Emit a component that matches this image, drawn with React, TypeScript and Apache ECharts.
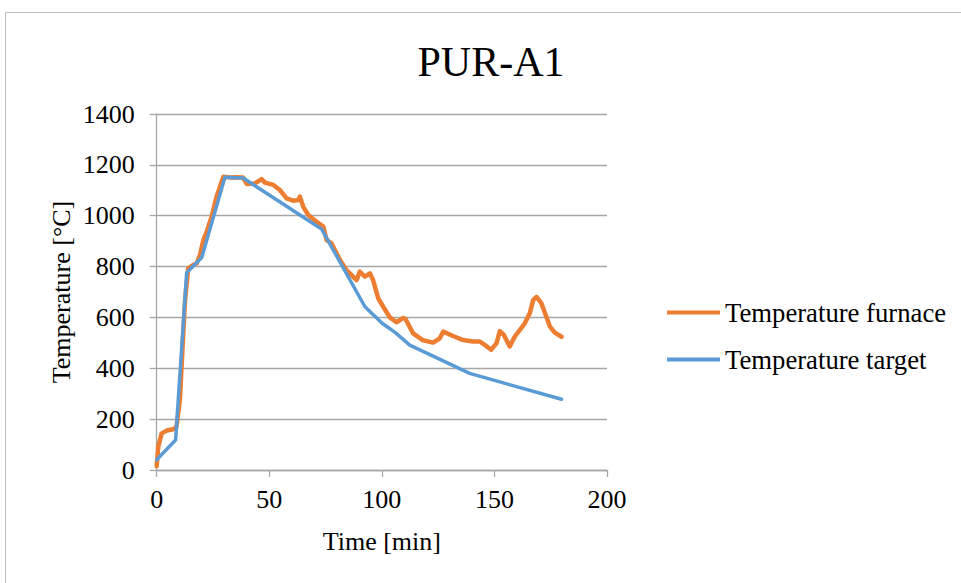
import React, { useEffect, useRef } from "react";
import * as echarts from "echarts";

const titleText = "PUR-A1";
const xTicks = [0, 50, 100, 150, 200];
const yTicks = [0, 200, 400, 600, 800, 1000, 1200, 1400];

const furnaceTime = [0, 0.7, 2.2, 4.4, 7.4, 8.8, 10.3, 11.8, 12.6, 14, 16, 17.8, 19.2, 20.7, 22.2, 24.4, 26.6, 29.6, 33, 35.5, 38.4, 40, 43.6, 46.6, 48.1, 51.8, 54.7, 57.7, 60.6, 62.9, 63.6, 65.1, 67.3, 71, 74, 75.5, 77.7, 81.4, 84.3, 88.8, 90.2, 92.5, 94.7, 96.1, 98.4, 100.6, 103.6, 106.5, 109.5, 110.5, 113.9, 118.3, 122.8, 125.7, 127.3, 131.6, 136.1, 140.5, 143.5, 145.7, 148.5, 150.9, 152.4, 154.2, 156.8, 159, 163.5, 165.7, 167.2, 168.7, 170.9, 174.6, 176.8, 179.8];
const furnaceTemp = [15, 92, 144, 155, 160, 170, 275, 537, 668, 793, 805, 813, 845, 904, 937, 996, 1075, 1153, 1150, 1151, 1150, 1125, 1127, 1144, 1130, 1121, 1101, 1068, 1059, 1062, 1075, 1035, 1003, 976, 957, 904, 891, 826, 786, 747, 780, 760, 773, 747, 675, 642, 600, 581, 598, 594, 537, 510, 501, 518, 544, 527, 511, 505, 505, 492, 473, 498, 546, 531, 486, 524, 577, 616, 668, 681, 655, 565, 540, 524];

const targetTime = [0, 8.4, 13.3, 20, 30.3, 38.4, 73.2, 92.5, 100, 106, 112.4, 139, 179.8];
const targetTemp = [40, 118, 776, 836, 1151, 1148, 948, 642, 578, 540, 491, 380, 278];

const seriesNames = ["Temperature furnace", "Temperature target"];
const seriesColors = ["#ED7D31", "#5B9BD5"];

const FONT = "'Liberation Serif', 'Times New Roman', serif";

export default function App() {
  const ref = useRef<HTMLDivElement>(null);
  useEffect(() => {
    if (!ref.current) return;
    const chart = echarts.init(ref.current, null, { renderer: "svg" });
    const furnace = furnaceTime.map((t, i) => [t, furnaceTemp[i]]);
    const target = targetTime.map((t, i) => [t, targetTemp[i]]);
    chart.setOption({
      animation: false,
      backgroundColor: "#ffffff",
      title: {
        text: titleText,
        left: 486,
        top: 36,
        textAlign: "center",
        textStyle: { fontFamily: FONT, fontSize: 42, fontWeight: "normal", color: "#000" },
      },
      graphic: [
        {
          type: "rect",
          shape: { x: 5.5, y: 12.5, width: 1000, height: 700 },
          style: { fill: "none", stroke: "#BFBFBF", lineWidth: 1 },
          silent: true,
        },
      ],
      legend: {
        orient: "vertical",
        left: 662,
        top: 294,
        icon: "rect",
        itemWidth: 53,
        itemHeight: 4,
        itemGap: 20,
        data: seriesNames,
        textStyle: { fontFamily: FONT, fontSize: 26.7, color: "#000", lineHeight: 26 },
      },
      grid: { left: 156.7, right: 354, top: 114, bottom: 113, containLabel: false },
      xAxis: {
        type: "value",
        min: xTicks[0],
        max: xTicks[xTicks.length - 1],
        interval: 50,
        name: "Time [min]",
        nameLocation: "middle",
        nameGap: 58,
        nameTextStyle: { fontFamily: FONT, fontSize: 26, color: "#000" },
        axisLine: { show: true, lineStyle: { color: "#A6A6A6", width: 1.3 } },
        axisTick: { show: true, length: 7, lineStyle: { color: "#A6A6A6", width: 1.3 } },
        axisLabel: { fontFamily: FONT, fontSize: 26, color: "#000", margin: 16, formatter: (v: number) => String(v) },
        splitLine: { show: false },
      },
      yAxis: {
        type: "value",
        min: yTicks[0],
        max: yTicks[yTicks.length - 1],
        interval: 200,
        name: "Temperature [°C]",
        nameLocation: "middle",
        nameGap: 82,
        nameTextStyle: { fontFamily: FONT, fontSize: 26, color: "#000" },
        axisLine: { show: true, lineStyle: { color: "#A6A6A6", width: 1.3 } },
        axisTick: { show: true, length: 7, lineStyle: { color: "#A6A6A6", width: 1.3 } },
        axisLabel: { fontFamily: FONT, fontSize: 26, color: "#000", margin: 22, formatter: (v: number) => String(v) },
        splitLine: { show: true, lineStyle: { color: "#A6A6A6", width: 1.3 } },
      },
      series: [
        {
          name: seriesNames[0],
          type: "line",
          data: furnace,
          showSymbol: false,
          symbol: "none",
          color: seriesColors[0],
          lineStyle: { width: 4.5, color: seriesColors[0], cap: "round", join: "round" },
          z: 2,
        },
        {
          name: seriesNames[1],
          type: "line",
          data: target,
          showSymbol: false,
          symbol: "none",
          color: seriesColors[1],
          lineStyle: { width: 3.5, color: seriesColors[1], cap: "round", join: "round" },
          z: 3,
        },
      ],
    });
    return () => chart.dispose();
  }, []);
  return (
    <div
      ref={ref}
      style={{ position: "fixed", left: 0, top: 0, width: 961, height: 583, background: "#fff" }}
    />
  );
}
